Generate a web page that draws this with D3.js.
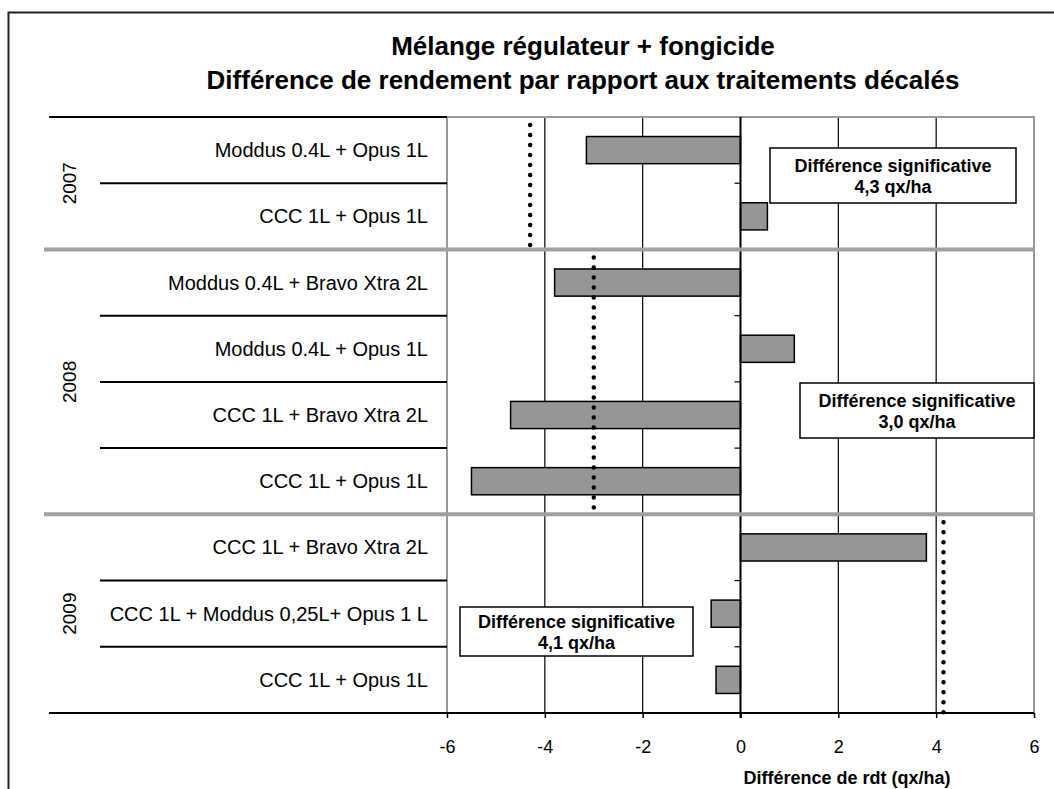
<!DOCTYPE html>
<html>
<head>
<meta charset="utf-8">
<script src="https://cdn.jsdelivr.net/npm/d3@7"></script>
<style>
    body { margin: 0; background: #fff; }
    svg { display: block; font-family: "Liberation Sans", Arial, sans-serif; }
</style>
</head>
<body>
<div id="chart"></div>
<script>
    // data
    var years = ["2007", "2008", "2009"];
    var rowYears = ["2007", "2007", "2008", "2008", "2008", "2008", "2009", "2009", "2009"];
    var rowLabels = [
        "Moddus 0.4L + Opus 1L",
        "CCC 1L + Opus 1L",
        "Moddus 0.4L + Bravo Xtra 2L",
        "Moddus 0.4L + Opus 1L",
        "CCC 1L + Bravo Xtra 2L",
        "CCC 1L + Opus 1L",
        "CCC 1L + Bravo Xtra 2L",
        "CCC 1L + Moddus 0,25L+ Opus 1 L",
        "CCC 1L + Opus 1L"
    ];
    var values = [-3.15, 0.55, -3.8, 1.1, -4.7, -5.5, 3.8, -0.6, -0.5];
    var sigValues = [-4.3, -3.0, 4.15];
    var sigLabels = ["4,3 qx/ha", "3,0 qx/ha", "4,1 qx/ha"];
    var sigTitle = "Différence significative";
    var xTicks = [-6, -4, -2, 0, 2, 4, 6];

    var width = 1054, height = 789;
    var plotLeft = 447, plotRight = 1034, plotTop = 117, plotBottom = 713;
    var labelLeft = 49, sepLeft = 100;

    var svg = d3.select("#chart").append("svg")
        .attr("width", width)
        .attr("height", height);

    var x = d3.scaleLinear().domain([-6, 6]).range([plotLeft, plotRight]);
    var y = d3.scaleBand()
        .domain(d3.range(rowLabels.length))
        .range([plotTop, plotBottom])
        .paddingInner(0.59)
        .paddingOuter(0.295);
    var step = y.step();

    function rowTop(i) { return plotTop + i * step; }

    // group extents
    var groups = years.map(function(yr, k) {
        var idx = d3.range(rowYears.length).filter(function(i) { return rowYears[i] === yr; });
        return { year: yr, first: idx[0], last: idx[idx.length - 1], sig: sigValues[k], label: sigLabels[k],
                 top: rowTop(idx[0]), bottom: rowTop(idx[idx.length - 1] + 1) };
    });

    // outer frame (only left and top visible)
    svg.append("path")
        .attr("d", "M8.5,789V12.5H1054")
        .attr("fill", "none")
        .attr("stroke", "#222")
        .attr("stroke-width", 2);

    // title
    var title = svg.append("g")
        .attr("font-weight", "bold")
        .attr("font-size", "26px")
        .attr("text-anchor", "middle")
        .attr("fill", "#000");
    title.append("text").attr("x", 583).attr("y", 55).text("Mélange régulateur + fongicide");
    title.append("text").attr("x", 583).attr("y", 89).text("Différence de rendement par rapport aux traitements décalés");

    // gridlines
    svg.append("g").selectAll("line")
        .data(xTicks.filter(function(d) { return d !== 0 && Math.abs(d) !== 6; }))
        .enter().append("line")
        .attr("x1", function(d) { return x(d); })
        .attr("x2", function(d) { return x(d); })
        .attr("y1", plotTop)
        .attr("y2", plotBottom)
        .attr("stroke", "#000")
        .attr("stroke-width", 1.2);

    // plot border (grey)
    svg.append("path")
        .attr("d", "M" + x(-6) + "," + plotBottom + "V" + plotTop + "H" + x(6) + "V" + plotBottom)
        .attr("fill", "none")
        .attr("stroke", "#999")
        .attr("stroke-width", 2);

    // bars
    svg.append("g").selectAll("rect")
        .data(values)
        .enter().append("rect")
        .attr("x", function(d) { return x(Math.min(0, d)); })
        .attr("width", function(d) { return Math.abs(x(d) - x(0)); })
        .attr("y", function(d, i) { return y(i); })
        .attr("height", y.bandwidth())
        .attr("fill", "#969696")
        .attr("stroke", "#000")
        .attr("stroke-width", 1.5);

    // zero line with small row ticks
    svg.append("line")
        .attr("x1", x(0)).attr("x2", x(0))
        .attr("y1", plotTop).attr("y2", plotBottom + 5)
        .attr("stroke", "#000")
        .attr("stroke-width", 2);
    svg.append("g").selectAll("line")
        .data(d3.range(1, rowLabels.length))
        .enter().append("line")
        .attr("x1", x(0) - 6).attr("x2", x(0))
        .attr("y1", function(i) { return rowTop(i); })
        .attr("y2", function(i) { return rowTop(i); })
        .attr("stroke", "#000")
        .attr("stroke-width", 1.2);

    // label-area separators
    var seps = svg.append("g").attr("stroke", "#000").attr("stroke-width", 2);
    seps.append("line")
        .attr("x1", labelLeft).attr("x2", plotLeft)
        .attr("y1", plotTop).attr("y2", plotTop);
    seps.selectAll(".sep")
        .data(d3.range(1, rowLabels.length).filter(function(i) { return rowYears[i] === rowYears[i - 1]; }))
        .enter().append("line")
        .attr("class", "sep")
        .attr("x1", sepLeft).attr("x2", plotLeft)
        .attr("y1", function(i) { return rowTop(i); })
        .attr("y2", function(i) { return rowTop(i); });

    // grey group separators
    svg.append("g").selectAll("line")
        .data(groups.slice(1))
        .enter().append("line")
        .attr("x1", labelLeft - 5).attr("x2", plotRight)
        .attr("y1", function(g) { return g.top; })
        .attr("y2", function(g) { return g.top; })
        .attr("stroke", "#a0a0a0")
        .attr("stroke-width", 4);

    // dotted significance lines
    svg.append("g").selectAll("line")
        .data(groups)
        .enter().append("line")
        .attr("x1", function(g) { return x(g.sig); })
        .attr("x2", function(g) { return x(g.sig); })
        .attr("y1", function(g) { return g.top + 8; })
        .attr("y2", function(g) { return g.bottom; })
        .attr("stroke", "#000")
        .attr("stroke-width", 4.5)
        .attr("stroke-linecap", "round")
        .attr("stroke-dasharray", "0,10");

    // bottom axis
    var xAxis = svg.append("g")
        .attr("transform", "translate(0," + plotBottom + ")")
        .call(d3.axisBottom(x).tickValues(xTicks).tickSize(5).tickPadding(22)
            .tickFormat(function(d) { return String(d); }));
    xAxis.select(".domain").remove();
    xAxis.selectAll(".tick line").attr("stroke", "#000").attr("stroke-width", 1.5);
    xAxis.selectAll(".tick text")
        .attr("font-family", "'Liberation Sans', Arial, sans-serif")
        .attr("font-size", "18px")
        .attr("fill", "#000");
    svg.append("line")
        .attr("x1", labelLeft).attr("x2", plotRight)
        .attr("y1", plotBottom).attr("y2", plotBottom)
        .attr("stroke", "#000")
        .attr("stroke-width", 2);

    // category labels
    svg.append("g").selectAll("text")
        .data(rowLabels)
        .enter().append("text")
        .attr("x", 428)
        .attr("y", function(d, i) { return y(i) + y.bandwidth() / 2; })
        .attr("dy", "0.35em")
        .attr("text-anchor", "end")
        .attr("font-size", "20px")
        .attr("fill", "#000")
        .text(function(d) { return d; });

    // year labels
    svg.append("g").selectAll("text")
        .data(groups)
        .enter().append("text")
        .attr("transform", function(g) { return "translate(69," + ((g.top + g.bottom) / 2) + ") rotate(-90)"; })
        .attr("dy", "0.35em")
        .attr("text-anchor", "middle")
        .attr("font-size", "19px")
        .attr("fill", "#000")
        .text(function(g) { return g.year; });

    // significance boxes
    var boxes = [
        { x0: 770, x1: 1016, y0: 148, y1: 203 },
        { x0: 800, x1: 1034, y0: 383, y1: 438 },
        { x0: 460, x1: 693, y0: 607, y1: 656 }
    ];
    var box = svg.append("g").selectAll("g")
        .data(groups)
        .enter().append("g");
    box.append("rect")
        .attr("x", function(g, k) { return boxes[k].x0; })
        .attr("y", function(g, k) { return boxes[k].y0; })
        .attr("width", function(g, k) { return boxes[k].x1 - boxes[k].x0; })
        .attr("height", function(g, k) { return boxes[k].y1 - boxes[k].y0; })
        .attr("fill", "#fff")
        .attr("stroke", "#000")
        .attr("stroke-width", 1.5);
    var boxText = box.append("text")
        .attr("text-anchor", "middle")
        .attr("font-weight", "bold")
        .attr("font-size", "18px")
        .attr("fill", "#000");
    boxText.append("tspan")
        .attr("x", function(g, k) { return (boxes[k].x0 + boxes[k].x1) / 2; })
        .attr("y", function(g, k) { return (boxes[k].y0 + boxes[k].y1) / 2 - 4; })
        .text(sigTitle);
    boxText.append("tspan")
        .attr("x", function(g, k) { return (boxes[k].x0 + boxes[k].x1) / 2; })
        .attr("y", function(g, k) { return (boxes[k].y0 + boxes[k].y1) / 2 + 17; })
        .text(function(g) { return g.label; });

    // axis title
    svg.append("text")
        .attr("x", 847)
        .attr("y", 784)
        .attr("text-anchor", "middle")
        .attr("font-weight", "bold")
        .attr("font-size", "18px")
        .attr("fill", "#000")
        .text("Différence de rdt (qx/ha)");
</script>
</body>
</html>
